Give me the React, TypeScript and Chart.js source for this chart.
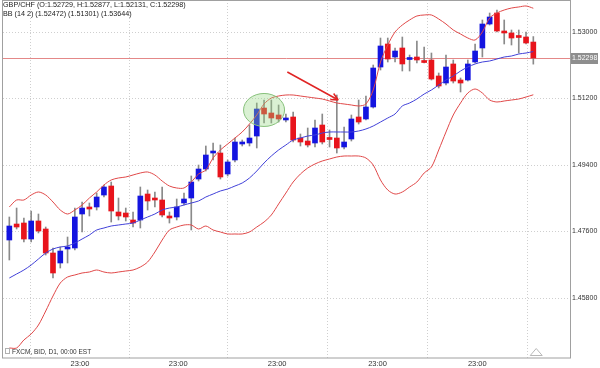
import { useEffect, useRef } from 'react';
import { Chart, registerables } from 'chart.js';

Chart.register(...registerables);

// ---------- data ----------
const candleOpen = [
  1.47370, 1.47803, 1.47830, 1.47397, 1.47885, 1.47668, 1.47018, 1.46748, 1.47127, 1.47154,
  1.48074, 1.48264, 1.48264, 1.48588, 1.48832, 1.48128, 1.48101, 1.47912, 1.47912, 1.48615,
  1.48507, 1.48453, 1.48020, 1.47993, 1.48372, 1.48507, 1.49021, 1.49292, 1.49725, 1.49725,
  1.49157, 1.49536, 1.49969, 1.49996, 1.50185, 1.50943, 1.50808, 1.50754, 1.50619, 1.50700,
  1.50131, 1.50050, 1.49996, 1.50483, 1.50118, 1.50131, 1.49888, 1.50104, 1.50700, 1.50646,
  1.50971, 1.52053, 1.52676, 1.52324, 1.52568, 1.52256, 1.52324, 1.52202, 1.52243, 1.51810,
  1.51620, 1.52135, 1.51701, 1.51701, 1.52189, 1.52568, 1.53217, 1.53515, 1.53028, 1.52974,
  1.52879, 1.52865, 1.52729,
];
const candleHigh = [
  1.47993, 1.48236, 1.47966, 1.48155, 1.48074, 1.47722, 1.47154, 1.47181, 1.47451, 1.48236,
  1.48399, 1.48372, 1.48642, 1.48859, 1.48940, 1.48507, 1.48236, 1.48128, 1.48805, 1.48724,
  1.48670, 1.48805, 1.48128, 1.48480, 1.48642, 1.49103, 1.49400, 1.49915, 1.49996, 1.49942,
  1.49536, 1.50131, 1.50077, 1.50483, 1.51079, 1.51160, 1.51160, 1.51025, 1.50781, 1.50835,
  1.50240, 1.50402, 1.50619, 1.50781, 1.50348, 1.51295, 1.50429, 1.50754, 1.51160, 1.51268,
  1.52107, 1.52838, 1.52838, 1.52568, 1.52865, 1.52378, 1.52757, 1.52595, 1.52432, 1.51891,
  1.52378, 1.52243, 1.51756, 1.52243, 1.52676, 1.53326, 1.53515, 1.53596, 1.53326, 1.53055,
  1.53055, 1.53001, 1.52877,
];
const candleLow = [
  1.46829, 1.47668, 1.47316, 1.47316, 1.47560, 1.46964, 1.46342, 1.46612, 1.46748, 1.47099,
  1.47587, 1.48020, 1.48182, 1.48534, 1.47857, 1.47912, 1.47885, 1.47722, 1.47695, 1.48182,
  1.48264, 1.47993, 1.47830, 1.47912, 1.48318, 1.47641, 1.48967, 1.49238, 1.49536, 1.49021,
  1.49103, 1.49482, 1.49915, 1.49915, 1.49861, 1.50537, 1.50537, 1.50564, 1.50564, 1.50023,
  1.49915, 1.49888, 1.49888, 1.49969, 1.49888, 1.49725, 1.49834, 1.50050, 1.50510, 1.50619,
  1.50943, 1.51972, 1.52189, 1.52189, 1.51945, 1.51945, 1.52162, 1.52162, 1.51701, 1.51485,
  1.51566, 1.51620, 1.51377, 1.51674, 1.52162, 1.52324, 1.53190, 1.53001, 1.52676, 1.52649,
  1.52432, 1.52676, 1.52131,
];
const candleClose = [
  1.47749, 1.47722, 1.47397, 1.47885, 1.47614, 1.47018, 1.46477, 1.47072, 1.47181, 1.47993,
  1.48236, 1.48209, 1.48534, 1.48805, 1.48155, 1.48020, 1.47993, 1.47830, 1.48561, 1.48426,
  1.48453, 1.48047, 1.47966, 1.48264, 1.48480, 1.48940, 1.49292, 1.49671, 1.49779, 1.49076,
  1.49482, 1.50023, 1.50023, 1.50131, 1.50916, 1.50781, 1.50673, 1.50646, 1.50646, 1.50077,
  1.50023, 1.49942, 1.50402, 1.50023, 1.50091, 1.49861, 1.50023, 1.50646, 1.50564, 1.50971,
  1.52026, 1.52622, 1.52270, 1.52486, 1.52135, 1.52283, 1.52243, 1.52175, 1.51728, 1.51539,
  1.52053, 1.51674, 1.51620, 1.52135, 1.52486, 1.53217, 1.53407, 1.53028, 1.52974, 1.52838,
  1.52852, 1.52703, 1.52298,
];
const bbUpper = [
  1.48264, 1.48453, 1.48453, 1.48588, 1.48670, 1.48588, 1.48399, 1.48182, 1.48074, 1.48182,
  1.48318, 1.48507, 1.48670, 1.48859, 1.48995, 1.49049, 1.49076, 1.49130, 1.49184, 1.49211,
  1.49130, 1.48967, 1.48832, 1.48778, 1.48778, 1.48940, 1.49157, 1.49265, 1.49590, 1.49807,
  1.49969, 1.50131, 1.50294, 1.50510, 1.50754, 1.51052, 1.51214, 1.51268, 1.51295, 1.51295,
  1.51268, 1.51241, 1.51214, 1.51187, 1.51133, 1.51079, 1.51052, 1.51025, 1.50998, 1.51052,
  1.51431, 1.52189, 1.52649, 1.53001, 1.53190, 1.53326, 1.53434, 1.53461, 1.53461, 1.53353,
  1.53217, 1.53055, 1.52947, 1.52838, 1.52784, 1.53001, 1.53380, 1.53515, 1.53596, 1.53650,
  1.53678, 1.53705, 1.53644,
];
const bbMiddle = [
  1.46342, 1.46450, 1.46558, 1.46693, 1.46856, 1.47018, 1.47127, 1.47181, 1.47208, 1.47289,
  1.47397, 1.47506, 1.47641, 1.47695, 1.47749, 1.47776, 1.47803, 1.47830, 1.47912, 1.47993,
  1.48074, 1.48182, 1.48236, 1.48264, 1.48318, 1.48372, 1.48426, 1.48534, 1.48615, 1.48697,
  1.48751, 1.48832, 1.48913, 1.49049, 1.49238, 1.49455, 1.49644, 1.49807, 1.49942, 1.50077,
  1.50131, 1.50185, 1.50213, 1.50267, 1.50294, 1.50294, 1.50294, 1.50294, 1.50321, 1.50375,
  1.50456, 1.50564, 1.50673, 1.50781, 1.50998, 1.51079, 1.51187, 1.51322, 1.51431, 1.51566,
  1.51701, 1.51810, 1.51945, 1.52053, 1.52135, 1.52189, 1.52216, 1.52270, 1.52324, 1.52351,
  1.52405, 1.52432, 1.52472,
];
const bbLower = [
  1.44447, 1.44447, 1.44664, 1.44826, 1.45069, 1.45448, 1.45854, 1.46206, 1.46369, 1.46423,
  1.46477, 1.46504, 1.46558, 1.46504, 1.46477, 1.46504, 1.46531, 1.46558, 1.46639, 1.46775,
  1.47045, 1.47370, 1.47641, 1.47722, 1.47776, 1.47776, 1.47668, 1.47749, 1.47641, 1.47587,
  1.47533, 1.47533, 1.47533, 1.47587, 1.47722, 1.47857, 1.48047, 1.48345, 1.48642, 1.48940,
  1.49157, 1.49319, 1.49428, 1.49509, 1.49563, 1.49617, 1.49644, 1.49644, 1.49644, 1.49590,
  1.49400, 1.48995, 1.48724, 1.48615, 1.48670, 1.48805, 1.48940, 1.49184, 1.49346, 1.49807,
  1.50294, 1.50754, 1.51079, 1.51349, 1.51458, 1.51349, 1.51160, 1.51106, 1.51133, 1.51160,
  1.51187, 1.51241, 1.51301,
];
const priceTicks = [1.458, 1.476, 1.494, 1.512, 1.53];
const timeTickIndex = [10.7, 24.2, 37.8, 51.6, 65.3];
const timeTickLabels = ['23:00', '23:00', '23:00', '23:00', '23:00'];
const lastPrice = 1.52298;
const legendLine1 = 'GBP/CHF (O:1.52729, H:1.52877, L:1.52131, C:1.52298)';
const legendLine2 = 'BB (14 2) (1.52472) (1.51301) (1.53644)';
const footerText = 'FXCM, BID, D1, 00:00 EST';
// annotations in data coordinates
const circleAt = { x: 36.0, y: 1.5089 };
const arrowFrom = { x: 39.2, y: 1.51918 };
const arrowTo = { x: 46.2, y: 1.5116 };

const FONT = "'Liberation Sans', Arial, sans-serif";
const BLUE = '#1414e0';
const RED = '#e8141c';

const overlay = {
  id: 'overlay',
  beforeDatasetsDraw(chart: any) {
    const { ctx, chartArea: a, scales } = chart;
    const y = Math.round(scales.y.getPixelForValue(lastPrice)) + 0.5;
    ctx.save();
    ctx.strokeStyle = '#e48888';
    ctx.lineWidth = 1;
    ctx.beginPath();
    ctx.moveTo(a.left, y);
    ctx.lineTo(a.right, y);
    ctx.stroke();
    ctx.restore();
  },
  afterDatasetsDraw(chart: any) {
    const { ctx, scales } = chart;
    const xs = scales.x;
    const ys = scales.y;
    ctx.save();
    // ellipse
    const cx = xs.getPixelForValue(circleAt.x);
    const cy = ys.getPixelForValue(circleAt.y);
    ctx.beginPath();
    ctx.ellipse(cx, cy, 20.5, 16.5, 0, 0, Math.PI * 2);
    ctx.fillStyle = 'rgba(150, 215, 130, 0.35)';
    ctx.fill();
    ctx.strokeStyle = '#86c07a';
    ctx.lineWidth = 1;
    ctx.stroke();
    // arrow
    const x1 = xs.getPixelForValue(arrowFrom.x);
    const y1 = ys.getPixelForValue(arrowFrom.y);
    const x2 = xs.getPixelForValue(arrowTo.x);
    const y2 = ys.getPixelForValue(arrowTo.y);
    const ang = Math.atan2(y2 - y1, x2 - x1);
    ctx.strokeStyle = '#e02424';
    ctx.lineWidth = 1.5;
    ctx.beginPath();
    ctx.moveTo(x1, y1);
    ctx.lineTo(x2, y2);
    ctx.moveTo(x2, y2);
    ctx.lineTo(x2 - 8 * Math.cos(ang - 0.45), y2 - 8 * Math.sin(ang - 0.45));
    ctx.moveTo(x2, y2);
    ctx.lineTo(x2 - 8 * Math.cos(ang + 0.45), y2 - 8 * Math.sin(ang + 0.45));
    ctx.stroke();
    ctx.restore();
  },
  afterDraw(chart: any) {
    const { ctx, chartArea: a, scales } = chart;
    ctx.save();
    // frame
    ctx.strokeStyle = '#a0a0a0';
    ctx.lineWidth = 1;
    ctx.strokeRect(Math.round(a.left) - 0.5, Math.round(a.top) + 0.5, Math.round(a.right - a.left) + 1, Math.round(a.bottom - a.top) - 0.5);
    // price label
    const y = scales.y.getPixelForValue(lastPrice);
    ctx.fillStyle = '#8e8e8e';
    ctx.fillRect(a.right + 1, Math.round(y) - 5, 27, 11);
    ctx.fillStyle = '#ffffff';
    ctx.font = `7px ${FONT}`;
    ctx.textBaseline = 'middle';
    ctx.textAlign = 'left';
    ctx.fillText(lastPrice.toFixed(5), a.right + 2, Math.round(y) + 0.5);
    // legend
    ctx.fillStyle = '#202020';
    ctx.font = `7.2px ${FONT}`;
    ctx.textBaseline = 'middle';
    ctx.fillText(legendLine1, 3, 5.5);
    ctx.fillText(legendLine2, 3, 14);
    // footer
    ctx.fillStyle = '#333333';
    ctx.font = `6.5px ${FONT}`;
    ctx.fillText(footerText, 12, a.bottom - 6);
    ctx.strokeStyle = '#b0b0b0';
    ctx.strokeRect(5.5, a.bottom - 9.5, 4, 5);
    // triangle marker
    const tx = scales.x.getPixelForValue(73.4);
    ctx.strokeStyle = '#b8b8b8';
    ctx.beginPath();
    ctx.moveTo(tx - 6, a.bottom - 2.5);
    ctx.lineTo(tx + 6, a.bottom - 2.5);
    ctx.lineTo(tx, a.bottom - 9.5);
    ctx.closePath();
    ctx.stroke();
    ctx.restore();
  },
};

const noPad = (s: any) => {
  s.paddingTop = 0;
  s.paddingBottom = 0;
  s.paddingLeft = 0;
  s.paddingRight = 0;
};

export default function App() {
  const ref = useRef<HTMLCanvasElement | null>(null);
  useEffect(() => {
    document.body.style.margin = '0';
    const idx = candleOpen.map((_, i) => i + 1);
    const chart = new Chart(ref.current as HTMLCanvasElement, {
      type: 'bar',
      data: {
        datasets: [
          {
            type: 'line',
            data: idx.map((x, i) => ({ x, y: bbUpper[i] })),
            borderColor: '#e04848',
            borderWidth: 1,
            pointRadius: 0,
            tension: 0.3,
            order: 1,
          } as any,
          {
            type: 'line',
            data: idx.map((x, i) => ({ x, y: bbLower[i] })),
            borderColor: '#e04848',
            borderWidth: 1,
            pointRadius: 0,
            tension: 0.3,
            order: 1,
          } as any,
          {
            type: 'line',
            data: idx.map((x, i) => ({ x, y: bbMiddle[i] })),
            borderColor: '#4040d8',
            borderWidth: 1,
            pointRadius: 0,
            tension: 0.3,
            order: 1,
          } as any,
          {
            type: 'bar',
            data: idx.map((x, i) => ({ x, y: [candleOpen[i], candleClose[i]] })),
            backgroundColor: idx.map((_, i) => (candleClose[i] >= candleOpen[i] ? BLUE : RED)),
            borderWidth: 0,
            barThickness: 5,
            minBarLength: 2,
            grouped: false,
            order: 2,
          } as any,
          {
            type: 'bar',
            data: idx.map((x, i) => ({ x, y: [candleLow[i], candleHigh[i]] })),
            backgroundColor: '#8a8a8a',
            borderWidth: 0,
            barThickness: 1,
            grouped: false,
            order: 3,
          } as any,
        ],
      },
      options: {
        responsive: false,
        animation: false,
        layout: { padding: { left: 3, top: 0, right: 0, bottom: 0 } },
        plugins: { legend: { display: false }, tooltip: { enabled: false } },
        scales: {
          x: {
            type: 'linear',
            min: 0.13,
            max: 78.04,
            offset: false,
            grid: { color: '#cfcfcf', drawTicks: false },
            border: { display: false, dash: [1, 2] },
            afterBuildTicks: (s: any) => {
              s.ticks = timeTickIndex.map((v) => ({ value: v }));
            },
            afterFit: (s: any) => {
              s.height = 10;
              noPad(s);
            },
            ticks: {
              autoSkip: false,
              maxRotation: 0,
              padding: 1,
              color: '#333',
              font: { family: FONT, size: 7.5 },
              callback: (_v: any, i: number) => timeTickLabels[i],
            },
          },
          y: {
            type: 'linear',
            position: 'right',
            min: 1.44176,
            max: 1.53867,
            grid: { color: '#cfcfcf', drawTicks: false },
            border: { display: false, dash: [1, 2] },
            afterBuildTicks: (s: any) => {
              s.ticks = priceTicks.map((v) => ({ value: v }));
            },
            afterFit: (s: any) => {
              s.width = 30;
              noPad(s);
            },
            ticks: {
              padding: 2,
              color: '#333',
              font: { family: FONT, size: 7 },
              callback: (v: any) => Number(v).toFixed(5),
            },
          },
        },
      },
      plugins: [overlay],
    } as any);
    return () => chart.destroy();
  }, []);
  return <canvas ref={ref} width={600} height={368} style={{ display: 'block' }} />;
}
